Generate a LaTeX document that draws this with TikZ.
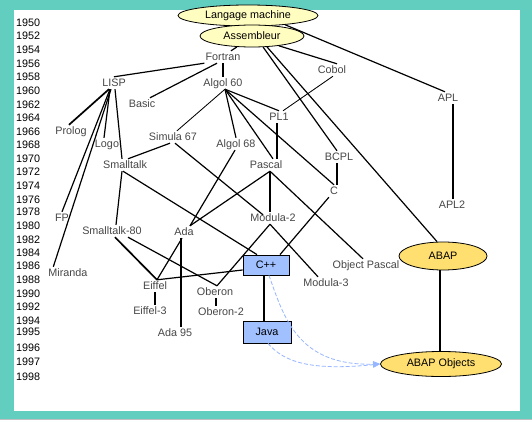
\documentclass[tikz,border=0pt]{standalone}
\usepackage{fontspec}
\setmainfont{Liberation Sans}
\usetikzlibrary{shapes.geometric,arrows.meta}
\definecolor{tealbg}{RGB}{98,206,192}
\definecolor{paleyellow}{RGB}{255,253,192}
\definecolor{abapyellow}{RGB}{255,223,112}
\definecolor{boxblue}{RGB}{160,192,255}
\definecolor{dashblue}{RGB}{150,182,255}
\begin{document}
\begin{tikzpicture}[x=1pt,y=-1pt,
  font=\fontsize{10.8}{13}\selectfont,
  lang/.style={inner sep=1pt,text height=8pt,text depth=2pt,text=black!72},
  yr/.style={anchor=west,inner sep=0pt,text height=8pt,text depth=0pt,text=black},
  ell/.style={ellipse,draw=black,line width=0.8pt,inner sep=0pt,text=black},
  bluebox/.style={draw=black,line width=0.8pt,fill=boxblue,inner sep=0pt,text=black},
  edge/.style={line width=1.2pt,black},
  thinedge/.style={line width=0.85pt,black},
  thickedge/.style={line width=1.7pt,black},
  dashedge/.style={dashblue,line width=0.8pt,dash pattern=on 4pt off 2pt,-{Triangle[length=7pt,width=6pt]}}]
\useasboundingbox (0,0) rectangle (532,420);
\fill[tealbg] (0,0) rectangle (532,420);
\fill[black!25] (0,419.3) rectangle (532,420);
\fill[white] (14,10) rectangle (520,410.5);

% years
\foreach \yr/\yy in {1950/23,1952/36,1954/50,1956/63,1958/77,1960/90,1962/104,1964/117,1966/131,1968/144,1970/158,1972/171,1974/185,1976/199,1978/211,1980/225,1982/239,1984/252,1986/265,1988/279,1990/293,1992/306,1994/320,1995/331,1996/347,1997/361,1998/376}
  \node[yr] (y\yr) at (16,\yy) {\yr};

% special nodes
\node[ell,fill=paleyellow,minimum width=140pt,minimum height=21pt] (lm) at (248,15.5) {Langage machine};
\node[ell,fill=paleyellow,minimum width=104pt,minimum height=22pt] (asm) at (252,36) {Assembleur};
\node[ell,fill=abapyellow,minimum width=88pt,minimum height=28pt] (abap) at (443,256) {ABAP};
\node[ell,fill=abapyellow,minimum width=121pt,minimum height=25pt] (abapobj) at (441,364) {ABAP Objects};
\node[bluebox,minimum width=46pt,minimum height=20pt] (cpp) at (266,265) {C++};
\node[bluebox,minimum width=48pt,minimum height=22pt] (java) at (267,332) {Java};

% language labels
\node[lang] (fortran) at (223,57) {Fortran};
\node[lang] (cobol) at (332,70) {Cobol};
\node[lang] (apl) at (448,98) {APL};
\node[lang] (lisp) at (114,83) {LISP};
\node[lang] (basic) at (142,104) {Basic};
\node[lang] (algol60) at (223,83) {Algol 60};
\node[lang] (pl1) at (279,117) {PL1};
\node[lang] (prolog) at (71,131) {Prolog};
\node[lang] (logo) at (107,144) {Logo};
\node[lang] (simula) at (173,137) {Simula 67};
\node[lang] (algol68) at (236,144) {Algol 68};
\node[lang] (smalltalk) at (125,165) {Smalltalk};
\node[lang] (pascal) at (266,165) {Pascal};
\node[lang] (bcpl) at (339,157) {BCPL};
\node[lang] (c) at (334,191) {C};
\node[lang] (apl2) at (452,205) {APL2};
\node[lang] (fp) at (62,218) {FP};
\node[lang] (st80) at (112,231) {Smalltalk-80};
\node[lang] (ada) at (184,232) {Ada};
\node[lang] (modula2) at (273,218) {Modula-2};
\node[lang] (objpascal) at (366,265) {Object Pascal};
\node[lang] (miranda) at (68,273) {Miranda};
\node[lang] (eiffel) at (155,286) {Eiffel};
\node[lang] (modula3) at (326,283) {Modula-3};
\node[lang] (oberon) at (215,292) {Oberon};
\node[lang] (eiffel3) at (150,311) {Eiffel-3};
\node[lang] (oberon2) at (221,312) {Oberon-2};
\node[lang] (ada95) at (175,333) {Ada 95};

% connectors
\draw[edge] (lm.-14) -- ([xshift=-3pt]apl.north);
\draw[edge] (asm.-144) -- ([xshift=8pt]fortran.north);
\draw[edge] (asm.-20) -- ([xshift=5pt]cobol.north);
\draw[edge] (asm.-45) -- ([xshift=-2pt]bcpl.north);
\draw[edge] (asm.-36) -- ([xshift=-6pt]abap.north);
\draw[edge] (fortran.south) -- (algol60.north);
\draw[edge] (fortran.south west) -- (lisp.north);
\draw[edge] ([xshift=-6pt]fortran.south) -- ([xshift=8pt]basic.north);
\draw[thinedge] ([xshift=2pt]algol60.south) -- ([xshift=4pt]simula.north);
\draw[edge] ([xshift=2pt]algol60.south) -- (algol68.north);
\draw[edge] ([xshift=2pt]algol60.south) -- (pl1.north);
\draw[edge] ([xshift=2pt]algol60.south) -- ([xshift=7pt]pascal.north);
\draw[edge] ([xshift=2pt]algol60.south) -- (c.north);
\draw[thinedge] ([xshift=1pt]cobol.south) -- ([xshift=4pt]pl1.north);
\draw[edge] ([xshift=-2pt]pl1.south) -- ([xshift=11pt]pascal.north);
\draw[thickedge] ([xshift=-5pt]lisp.south) -- ([xshift=-2pt]prolog.north);
\draw[edge] ([xshift=-4pt]lisp.south) -- ([xshift=-3pt]logo.north);
\draw[edge] ([xshift=-4pt]lisp.south) -- (fp.north);
\draw[edge] ([xshift=-3pt]lisp.south) -- ([xshift=6pt]miranda.north west);
\draw[edge] ([xshift=1pt]lisp.south) -- ([xshift=-3pt]smalltalk.north);
\draw[edge] ([xshift=-3pt]simula.south) -- ([xshift=3pt]smalltalk.north);
\draw[edge] ([xshift=2pt]simula.south) -- ([xshift=-10pt,yshift=-3pt]modula2.north);
\draw[edge] ([xshift=-3pt]smalltalk.south) -- ([xshift=4pt]st80.north);
\draw[edge] ([xshift=-2pt]smalltalk.south) -- ([xshift=-9pt]cpp.north);
\draw[edge] ([xshift=-1pt]algol68.south) -- ([xshift=6pt]ada.north);
\draw[edge] ([xshift=4pt]pascal.south) -- ([xshift=6pt]ada.north);
\draw[edge] ([xshift=4pt]pascal.south) -- ([xshift=-3pt]modula2.north);
\draw[edge] ([xshift=4pt]pascal.south) -- ([xshift=-3pt]objpascal.north);
\draw[edge] ([xshift=-2pt]bcpl.south) -- ([xshift=3pt]c.north);
\draw[edge] (c.south west) -- ([xshift=14pt]cpp.north);
\draw[edge] ([xshift=-3pt]modula2.south) -- ([xshift=2pt]oberon.north);
\draw[edge] ([xshift=-3pt]modula2.south) -- ([xshift=-8pt]modula3.north);
\draw[thickedge] ([xshift=3pt]st80.south) -- ([xshift=2pt]eiffel.north);
\draw[edge] ([xshift=16pt]st80.south) -- ([xshift=2pt]oberon.north);
\draw[edge] ([xshift=-2pt]ada.south) -- ([xshift=2pt]eiffel.north);
\draw[edge] ([xshift=-3pt]ada.south) -- ([xshift=6pt]ada95.north);
\draw[edge] ([xshift=2pt]eiffel.north) -- ([yshift=-5pt]cpp.west);
\draw[edge] (eiffel.south) -- ([xshift=5pt]eiffel3.north);
\draw[edge] ([xshift=1pt]oberon.south) -- ([xshift=-5pt]oberon2.north);
\draw[thickedge] ([xshift=-2pt]cpp.south) -- ([xshift=-3pt]java.north);
\draw[edge] ([xshift=5pt]apl.south) -- ([xshift=1pt]apl2.north);
\draw[thickedge] ([xshift=-3pt]abap.south) -- ([xshift=-1pt]abapobj.north);

% dashed influence arrows
\draw[dashedge] ([xshift=3pt]cpp.south) .. controls (284,318) and (298,366) .. (abapobj.west);
\draw[dashedge] ([xshift=1pt]java.south) .. controls (284,362) and (310,371) .. (abapobj.west);
\end{tikzpicture}
\end{document}
